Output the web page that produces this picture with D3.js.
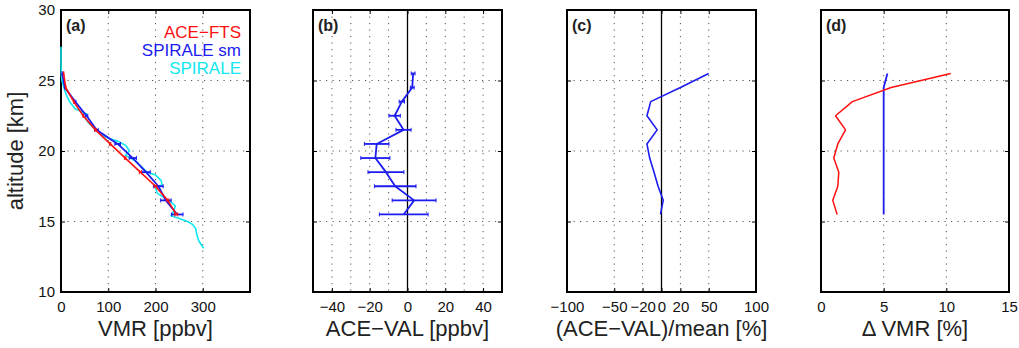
<!DOCTYPE html>
<html>
<head>
<meta charset="utf-8">
<script src="https://cdn.jsdelivr.net/npm/d3@7"></script>
<style>
	body { margin: 0; background: #fff; }
	svg text { font-family: "Liberation Sans", Arial, sans-serif; }
	.grid { stroke: #555; stroke-width: 1; stroke-dasharray: 1.2,5.3; fill: none; }
	.frame { fill: none; stroke: #000; stroke-width: 2; }
	.tick line { stroke: #000; }
	.domain { display: none; }
</style>
</head>
<body>
<svg width="1019" height="348"></svg>
<script>
// altitude grid of the ACE / SPIRALE comparison [km]
var altitudes  = [25.5, 24.5, 23.5, 22.5, 21.5, 20.5, 19.5, 18.5, 17.5, 16.5, 15.5]

// (a) VMR [ppbv]
var aceVmr     = [5.5, 10, 27, 47, 73, 104, 136, 168, 200, 226, 244]
var smVmr      = [2.5, 8, 30, 54, 75, 120, 152, 180, 206, 222, 246]
var spiraleAlt = [27.4, 26.5, 25.5, 25.0, 24.5, 24.0, 23.5, 23.0, 22.6, 22.4, 22.0, 21.6, 21.2, 20.9, 20.7,
                  20.4, 20.0, 19.7, 19.3, 18.9, 18.5, 18.3, 17.9, 17.6, 17.4, 17.0, 16.7, 16.4, 16.1, 15.7,
                  15.4, 15.2, 15.0, 14.8, 14.5, 14.0, 13.6, 13.3, 13.1]
var spiraleVmr = [0, 0, 0.5, 2, 6, 11, 18, 30, 55, 50, 58, 70, 84, 100, 120,
                  137, 145, 136, 157, 170, 182, 200, 212, 214, 200, 204, 218, 232, 242, 238,
                  233, 252, 268, 278, 285, 288, 292, 298, 302]

// (b) ACE-VAL [ppbv] and its error
var diffVal    = [3.0, 2.5, -3, -6.8, -2.1, -16.3, -17, -11.4, -6.5, 3.5, -2]
var diffErr    = [1, 1, 1.4, 3, 4, 6.5, 7.7, 9.5, 11, 11.6, 12.9]

// (c) (ACE-VAL)/mean [%]
var relDiff    = [50, 20, -11.4, -15.4, -4.6, -15.4, -12.5, -7.9, -3.6, 1.8, -1.1]

// (d) VMR error [%]
var aceErrPct  = [10.35, 5.6, 2.5, 1.16, 1.96, 1.34, 1.02, 1.42, 1.34, 0.94, 1.29]
var smErrPct   = [5.3, 5.0, 5.0, 5.0, 5.0, 5.0, 5.0, 5.0, 5.0, 5.0, 5.0]

var altTicks   = [10, 15, 20, 25, 30]
var altGrid    = [15, 20, 25]

var RED = "#ff1010", BLUE = "#1c1cf0", CYAN = "#10e8f0"

var svg = d3.select("svg")
var y = d3.scaleLinear().domain([10, 30]).range([292, 10])

var panels = [
	{ id: "a", left: 61,  right: 250,  domain: [0, 400],    ticks: [0, 100, 200, 300],            grid: [100, 200, 300],                       title: "VMR [ppbv]" },
	{ id: "b", left: 313, right: 502,  domain: [-50, 50],   ticks: [-40, -20, 0, 20, 40],         grid: [-40, -30, -20, -10, 10, 20, 30, 40],  title: "ACE\u2212VAL [ppbv]", zero: true },
	{ id: "c", left: 567, right: 756,  domain: [-100, 100], ticks: [-100, -50, -20, 0, 20, 50, 100], grid: [-50, -20, 20, 50],                title: "(ACE\u2212VAL)/mean [%]", zero: true },
	{ id: "d", left: 821, right: 1009, domain: [0, 15],     ticks: [0, 5, 10, 15],                grid: [5, 10],                               title: "\u0394 VMR [%]" }
]

panels.forEach(function(p){
	p.x = d3.scaleLinear().domain(p.domain).range([p.left, p.right])
	var g = svg.append("g").attr("class", "panel-" + p.id)
	p.g = g

	g.selectAll(".vgrid").data(p.grid).enter().append("line")
		.attr("class", "grid")
		.attr("x1", function(d){ return p.x(d) }).attr("x2", function(d){ return p.x(d) })
		.attr("y1", y(30)).attr("y2", y(10))
	g.selectAll(".hgrid").data(altGrid).enter().append("line")
		.attr("class", "grid")
		.attr("x1", p.left).attr("x2", p.right)
		.attr("y1", function(d){ return y(d) }).attr("y2", function(d){ return y(d) })

	if (p.zero) {
		g.append("line")
			.attr("x1", p.x(0)).attr("x2", p.x(0))
			.attr("y1", y(30)).attr("y2", y(10))
			.attr("stroke", "#000").attr("stroke-width", 1.3)
	}

	var bottom = g.append("g").attr("transform", "translate(0," + y(10) + ")")
		.call(d3.axisBottom(p.x).tickValues(p.ticks).tickSizeInner(-4).tickSizeOuter(0).tickPadding(9))
	bottom.selectAll("text").attr("font-size", 15).attr("fill", "#111")
	g.append("g").attr("transform", "translate(0," + y(30) + ")")
		.call(d3.axisTop(p.x).tickValues(p.ticks).tickSizeInner(-4).tickSizeOuter(0).tickFormat(""))

	var left = g.append("g").attr("transform", "translate(" + p.left + ",0)")
		.call(d3.axisLeft(y).tickValues(altTicks).tickSizeInner(-4).tickSizeOuter(0).tickPadding(6))
	if (p.id == "a") left.selectAll("text").attr("font-size", 15).attr("fill", "#111")
	else left.selectAll("text").remove()
	g.append("g").attr("transform", "translate(" + p.right + ",0)")
		.call(d3.axisRight(y).tickValues(altTicks).tickSizeInner(-4).tickSizeOuter(0).tickFormat(""))

	g.append("rect").attr("class", "frame")
		.attr("x", p.left).attr("y", y(30))
		.attr("width", p.right - p.left).attr("height", y(10) - y(30))

	g.append("text")
		.attr("x", p.left + 5).attr("y", 31)
		.attr("font-size", 16).attr("font-weight", "bold").attr("fill", "#222")
		.text("(" + p.id + ")")

	g.append("text")
		.attr("x", (p.left + p.right) / 2).attr("y", 336)
		.attr("text-anchor", "middle").attr("font-size", 22).attr("fill", "#222")
		.text(p.title)
})

svg.append("text")
	.attr("transform", "translate(23,151) rotate(-90)")
	.attr("text-anchor", "middle").attr("font-size", 22).attr("fill", "#222")
	.text("altitude [km]")

function profile(g, x, xs, ys, color, width){
	var line = d3.line()
		.x(function(d){ return x(d[0]) })
		.y(function(d){ return y(d[1]) })
	g.append("path")
		.datum(d3.zip(xs, ys))
		.attr("d", line)
		.attr("fill", "none")
		.attr("stroke", color)
		.attr("stroke-width", width)
		.attr("stroke-linejoin", "round")
}

function errorBars(g, x, xs, errs, ys, color, width){
	var rows = d3.zip(xs, errs, ys)
	g.selectAll(null).data(rows).enter().append("line")
		.attr("x1", function(d){ return x(d[0] - d[1]) })
		.attr("x2", function(d){ return x(d[0] + d[1]) })
		.attr("y1", function(d){ return y(d[2]) })
		.attr("y2", function(d){ return y(d[2]) })
		.attr("stroke", color).attr("stroke-width", width)
	g.selectAll(null).data(rows.concat(rows.map(function(d){ return [d[0], -d[1], d[2]] }))).enter().append("line")
		.attr("x1", function(d){ return x(d[0] + d[1]) })
		.attr("x2", function(d){ return x(d[0] + d[1]) })
		.attr("y1", function(d){ return y(d[2]) - 2 })
		.attr("y2", function(d){ return y(d[2]) + 2 })
		.attr("stroke", color).attr("stroke-width", 1)
}

// (a)
var pa = panels[0]
profile(pa.g, pa.x, spiraleVmr, spiraleAlt, CYAN, 1.6)
errorBars(pa.g, pa.x, smVmr, smVmr.map(function(v, i){ return v * smErrPct[i] / 100 }), altitudes, BLUE, 1.8)
profile(pa.g, pa.x, smVmr, altitudes, BLUE, 1.8)
errorBars(pa.g, pa.x, aceVmr, aceVmr.map(function(v, i){ return v * aceErrPct[i] / 100 }), altitudes, RED, 1.6)
profile(pa.g, pa.x, aceVmr, altitudes, RED, 1.6)

var legend = [["ACE\u2212FTS", RED], ["SPIRALE sm", BLUE], ["SPIRALE", CYAN]]
pa.g.selectAll(".legend").data(legend).enter().append("text")
	.attr("x", 241)
	.attr("y", function(d, i){ return 37.5 + i * 18.3 })
	.attr("text-anchor", "end").attr("font-size", 17)
	.attr("fill", function(d){ return d[1] })
	.text(function(d){ return d[0] })

// (b)
var pb = panels[1]
errorBars(pb.g, pb.x, diffVal, diffErr, altitudes, BLUE, 1.8)
profile(pb.g, pb.x, diffVal, altitudes, BLUE, 1.8)

// (c)
var pc = panels[2]
profile(pc.g, pc.x, relDiff, altitudes, BLUE, 1.6)

// (d)
var pd = panels[3]
profile(pd.g, pd.x, smErrPct, altitudes, BLUE, 1.8)
profile(pd.g, pd.x, aceErrPct, altitudes, RED, 1.5)
</script>
</body>
</html>
